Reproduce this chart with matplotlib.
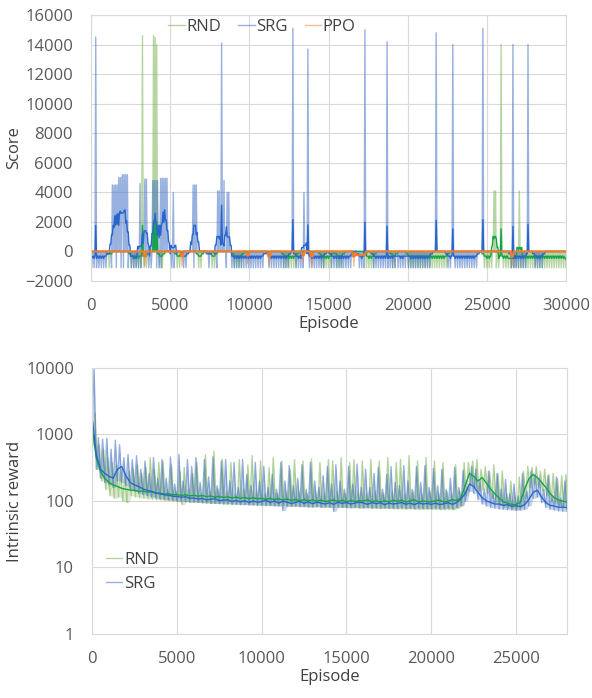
import numpy as np
import pandas as pd
import matplotlib
matplotlib.use("Agg")
import matplotlib.pyplot as plt
from matplotlib.ticker import FixedLocator, NullLocator

plt.rcParams["font.family"] = ["Open Sans", "DejaVu Sans"]
plt.rcParams["font.size"] = 12

# === Top panel data (score) ===
ep_top = np.arange(0, 30001, 50)

srg_peak_ep = [300, 8250, 12770, 13700, 17280, 18720, 21800, 22850, 24730, 26650, 27580]
srg_peak_score = [14500, 14100, 15100, 13700, 15000, 14200, 14800, 14000, 15100, 14000, 14000]
srg_burst_start = [1320, 1750, 2000, 3080, 3400, 3900, 4400, 5180, 5360, 6450, 7960, 8400, 8600, 13420, 24610]
srg_burst_end = [1700, 2000, 2330, 3150, 3550, 4250, 4800, 5200, 5380, 6700, 8100, 8450, 8700, 13450, 24630]
srg_burst_score = [4500, 5000, 5200, 4600, 4900, 4800, 4950, 4000, 4000, 4500, 4100, 4800, 4000, 4000, 4000]
srg_dip_start = [0, 1250, 2500, 3450, 4100, 5050, 5800, 6440, 7390, 7900, 8840, 11180, 12900,
                 13720, 15110, 16880, 17770, 19350, 20000, 22500, 26500, 28000]
srg_dip_end = [1060, 2430, 3270, 3900, 4730, 5300, 6120, 6750, 7580, 8650, 10990, 12450, 13400,
               14800, 16500, 17330, 19220, 19850, 21430, 24400, 27500, 28500]

rnd_peak_ep = [3270, 3950, 4030, 4160, 25890]
rnd_peak_score = [14600, 14600, 14500, 14000, 14000]
rnd_burst_start = [25450, 27030]
rnd_burst_end = [25550, 27080]
rnd_burst_score = [4100, 4100]
rnd_dip_start = [1060, 2500, 3300, 4300, 5360, 6750, 7600, 9000, 12130, 14480, 15500, 17330,
                 19000, 20000, 24800, 26500]
rnd_dip_end = [1250, 3150, 3500, 4600, 5680, 7000, 7900, 9500, 13080, 15240, 15900, 17960,
               19300, 22500, 26500, 30000]

ppo_dip_ep = [3420, 5750, 9900, 11250, 13420, 13950, 16600, 26600]
ppo_dip_score = [-1000, -1000, -800, -1000, -700, -1000, -1000, -1000]
ppo_flat_start = [16750]
ppo_flat_end = [17300]
ppo_flat_score = [-250]

dip_floor = -1100

# === Bottom panel data (intrinsic reward, one row = 2000 episodes) ===
ep_ir = np.arange(0, 28001, 250)

srg_ir_smooth = [
    2000, 500, 300, 260, 235, 220, 300, 330,
    240, 190, 175, 165, 152, 145, 140, 133,
    128, 124, 122, 118, 117, 114, 116, 110,
    111, 107, 109, 104, 106, 108, 101, 103,
    104, 98, 102, 97, 101, 95, 100, 96,
    98, 103, 95, 100, 93, 99, 96, 92,
    95, 99, 92, 97, 91, 96, 93, 90,
    94, 89, 96, 92, 95, 90, 93, 96,
    93, 89, 95, 91, 94, 88, 93, 90,
    92, 95, 89, 93, 88, 94, 90, 92,
    89, 93, 88, 91, 94, 89, 95, 108,
    130, 180, 165, 135, 112, 100, 95, 90,
    90, 86, 88, 83, 85, 82, 88, 105,
    135, 145, 115, 95, 86, 84, 80, 81,
    79,
]
srg_ir_low = [
    1800, 300, 220, 190, 175, 160, 200, 190,
    170, 150, 140, 130, 125, 120, 115, 112,
    108, 106, 104, 102, 100, 99, 98, 97,
    96, 95, 94, 93, 92, 92, 91, 90,
    90, 89, 89, 88, 88, 87, 87, 86,
    86, 85, 85, 84, 84, 72, 83, 83,
    83, 82, 82, 81, 81, 82, 80, 81,
    80, 70, 81, 80, 80, 79, 80, 79,
    79, 80, 78, 79, 78, 79, 78, 78,
    78, 79, 77, 78, 77, 78, 77, 77,
    77, 78, 76, 77, 78, 76, 80, 85,
    100, 140, 130, 105, 90, 84, 80, 78,
    76, 75, 74, 73, 72, 73, 75, 85,
    110, 115, 95, 80, 75, 73, 71, 70,
    70,
]
srg_ir_high = [
    9800, 900, 850, 880, 600, 820, 700, 450,
    500, 420, 480, 300, 400, 260, 450, 220,
    420, 220, 460, 180, 500, 200, 420, 330,
    450, 190, 420, 230, 460, 170, 400, 420,
    200, 380, 160, 420, 250, 170, 380, 200,
    330, 160, 250, 150, 380, 200, 340, 170,
    220, 350, 150, 380, 200, 160, 240, 330,
    180, 350, 200, 150, 330, 180, 360, 160,
    300, 160, 260, 320, 150, 250, 330, 190,
    170, 340, 200, 150, 330, 190, 340, 160,
    310, 170, 300, 150, 220, 320, 160, 290,
    160, 330, 300, 200, 150, 280, 140, 260,
    150, 210, 130, 180, 120, 260, 140, 280,
    250, 220, 150, 240, 120, 230, 110, 200,
    160,
]

rnd_ir_smooth = [
    1300, 450, 280, 220, 190, 175, 165, 155,
    150, 146, 145, 140, 141, 136, 137, 131,
    132, 127, 129, 124, 125, 121, 124, 119,
    122, 118, 121, 116, 119, 114, 117, 113,
    115, 111, 114, 110, 113, 108, 112, 107,
    110, 106, 109, 105, 108, 103, 107, 102,
    105, 101, 105, 100, 104, 99, 103, 98,
    101, 104, 98, 103, 97, 102, 98, 101,
    100, 104, 97, 102, 96, 101, 97, 103,
    99, 103, 96, 101, 104, 97, 100, 98,
    97, 101, 103, 96, 100, 104, 102, 112,
    170, 260, 235, 200, 225, 185, 150, 128,
    110, 98, 92, 89, 88, 96, 150, 215,
    250, 225, 190, 160, 130, 112, 104, 99,
    97,
]
rnd_ir_low = [
    700, 300, 200, 150, 120, 110, 115, 100,
    95, 120, 115, 112, 110, 108, 107, 105,
    104, 102, 101, 100, 98, 88, 97, 96,
    96, 95, 94, 94, 93, 92, 92, 91,
    91, 90, 90, 89, 89, 88, 88, 88,
    87, 87, 86, 86, 85, 85, 84, 84,
    84, 83, 83, 82, 82, 82, 81, 81,
    81, 80, 80, 80, 79, 79, 79, 78,
    78, 78, 78, 77, 77, 77, 77, 76,
    76, 76, 76, 76, 75, 75, 75, 75,
    75, 75, 74, 74, 74, 74, 78, 85,
    120, 180, 160, 140, 150, 130, 110, 95,
    85, 80, 78, 76, 75, 80, 110, 160,
    180, 160, 140, 120, 100, 90, 85, 82,
    80,
]
rnd_ir_high = [
    2100, 700, 600, 450, 380, 350, 300, 250,
    280, 300, 350, 260, 320, 450, 300, 380,
    400, 150, 350, 140, 280, 320, 150, 260,
    380, 130, 500, 140, 560, 150, 420, 140,
    380, 130, 420, 150, 350, 480, 140, 400,
    130, 320, 450, 130, 400, 140, 300, 420,
    140, 400, 130, 430, 140, 380, 130, 420,
    400, 140, 450, 130, 380, 420, 140, 400,
    130, 420, 140, 400, 130, 450, 140, 380,
    420, 130, 480, 140, 400, 130, 450, 140,
    400, 130, 380, 140, 130, 350, 140, 380,
    380, 400, 420, 300, 330, 280, 350, 260,
    280, 130, 200, 120, 230, 280, 330, 320,
    330, 280, 300, 250, 260, 220, 240, 250,
    260,
]

# === Colours ===
C_SRG = "#4472C4"
C_SRG_DARK = "#2A66CC"
C_RND = "#70AD47"
C_RND_DARK = "#12A54A"
C_PPO = "#ED7D31"
C_GRID = "#D9D9D9"
C_TEXT = "#595959"

win = 7


def build_score(b_start, b_end, b_score, d_start, d_end):
    y = np.zeros(len(ep_top))
    for s, e in zip(d_start, d_end):
        idx = np.where((ep_top >= s) & (ep_top <= e))[0][1::3]
        y[idx] = dip_floor
    for s, e, v in zip(b_start, b_end, b_score):
        idx = np.where((ep_top >= s) & (ep_top <= e))[0][::2]
        y[idx] = v
    return y


def set_peaks(y, peak_ep, peak_score):
    y = np.array(y, dtype=float)
    for e, v in zip(peak_ep, peak_score):
        y[np.argmin(np.abs(ep_top - e))] = v
    return y


def add_peaks(y, peak_ep, peak_score, scale):
    y = np.array(y, dtype=float)
    for e, v in zip(peak_ep, peak_score):
        y[np.argmin(np.abs(ep_top - e))] += v * scale
    return y


def style_axes(ax):
    ax.grid(True, color=C_GRID, lw=0.8)
    ax.set_axisbelow(True)
    for sp in ax.spines.values():
        sp.set_color(C_GRID)
        sp.set_linewidth(0.8)
    ax.tick_params(length=0, colors=C_TEXT, labelsize=12, pad=12)
    ax.tick_params(axis="y", pad=13)


srg_base = build_score(srg_burst_start, srg_burst_end, srg_burst_score, srg_dip_start, srg_dip_end)
rnd_base = build_score(rnd_burst_start, rnd_burst_end, rnd_burst_score, rnd_dip_start, rnd_dip_end)
srg_score = set_peaks(srg_base, srg_peak_ep, srg_peak_score)
rnd_score = set_peaks(rnd_base, rnd_peak_ep, rnd_peak_score)
# single spikes are narrower than one grid step, so their moving-average bump stays thin
srg_trend = add_peaks(pd.Series(srg_base).rolling(win, center=True, min_periods=1).mean(),
                      srg_peak_ep, srg_peak_score, 1 / win)
rnd_trend = add_peaks(pd.Series(rnd_base).rolling(win, center=True, min_periods=1).mean(),
                      rnd_peak_ep, rnd_peak_score, 1 / win)

ppo_score = set_peaks(np.zeros(len(ep_top)), ppo_dip_ep, ppo_dip_score)
for s, e, v in zip(ppo_flat_start, ppo_flat_end, ppo_flat_score):
    ppo_score[(ep_top >= s) & (ep_top <= e)] = v
ppo_trend = pd.Series(ppo_score).rolling(3, center=True, min_periods=1).mean()

fig = plt.figure(figsize=(5.92, 6.98), dpi=100)

# === Top: score ===
ax1 = fig.add_axes([0.1537, 0.5974, 0.8024, 0.3811])
ax1.plot(ep_top, rnd_score, color=C_RND, alpha=0.5, lw=1.0, label="RND")
ax1.plot(ep_top, srg_score, color=C_SRG, alpha=0.55, lw=1.0, label="SRG")
ax1.plot(ep_top, ppo_score, color=C_PPO, alpha=0.5, lw=1.0, label="PPO")
ax1.plot(ep_top, rnd_trend, color=C_RND_DARK, lw=1.0)
ax1.plot(ep_top, srg_trend, color=C_SRG_DARK, lw=1.0)
ax1.plot(ep_top, ppo_trend, color=C_PPO, lw=1.6)
ax1.set_xlim(0, 30000)
ax1.set_ylim(-2000, 16000)
ax1.set_xticks(np.arange(0, 30001, 5000))
ax1.set_yticks(np.arange(-2000, 16001, 2000))
style_axes(ax1)
ax1.set_xlabel("Episode", color="#404040", fontsize=12, labelpad=2)
ax1.set_ylabel("Score", color="#404040", fontsize=12, labelpad=2)
ax1.legend(loc="center", bbox_to_anchor=(0.36, 0.955), ncol=3, frameon=False,
           handlelength=1.0, handletextpad=0.1, columnspacing=1.0, fontsize=12,
           labelcolor="#404040")

# === Bottom: intrinsic reward ===
ax2 = fig.add_axes([0.1554, 0.0917, 0.8024, 0.3811])
rnd_x = np.column_stack([ep_ir + 60, ep_ir + 185]).ravel()
rnd_y = np.column_stack([rnd_ir_low, rnd_ir_high]).ravel()
rnd_floor = np.repeat(rnd_ir_low, 2)
srg_x = np.column_stack([ep_ir, ep_ir + 125]).ravel()
srg_y = np.column_stack([srg_ir_low, srg_ir_high]).ravel()
srg_floor = np.repeat(srg_ir_low, 2)
ax2.fill_between(rnd_x, rnd_floor, rnd_y, color=C_RND, alpha=0.25, lw=0)
ax2.plot(rnd_x, rnd_y, color=C_RND, alpha=0.5, lw=1.0, label="RND")
ax2.fill_between(srg_x, srg_floor, srg_y, color=C_SRG, alpha=0.3, lw=0)
ax2.plot(srg_x, srg_y, color=C_SRG, alpha=0.55, lw=1.0, label="SRG")
ax2.plot(ep_ir, rnd_ir_smooth, color=C_RND_DARK, lw=1.0)
ax2.plot(ep_ir, srg_ir_smooth, color=C_SRG_DARK, lw=1.0)
ax2.set_yscale("log")
ax2.set_xlim(0, 28000)
ax2.set_ylim(1, 10000)
ax2.set_xticks(np.arange(0, 28001, 5000))
ax2.yaxis.set_major_locator(FixedLocator([1, 10, 100, 1000, 10000]))
ax2.yaxis.set_minor_locator(NullLocator())
ax2.set_yticklabels(["1", "10", "100", "1000", "10000"])
style_axes(ax2)
ax2.set_xlabel("Episode", color="#404040", fontsize=12, labelpad=2)
ax2.set_ylabel("Intrinsic reward", color="#404040", fontsize=12, labelpad=2)
ax2.legend(loc="center", bbox_to_anchor=(0.085, 0.234), frameon=False,
           handlelength=1.0, handletextpad=0.1, labelspacing=0.5, fontsize=12,
           labelcolor="#404040")

fig.savefig("out.png", dpi=100)
